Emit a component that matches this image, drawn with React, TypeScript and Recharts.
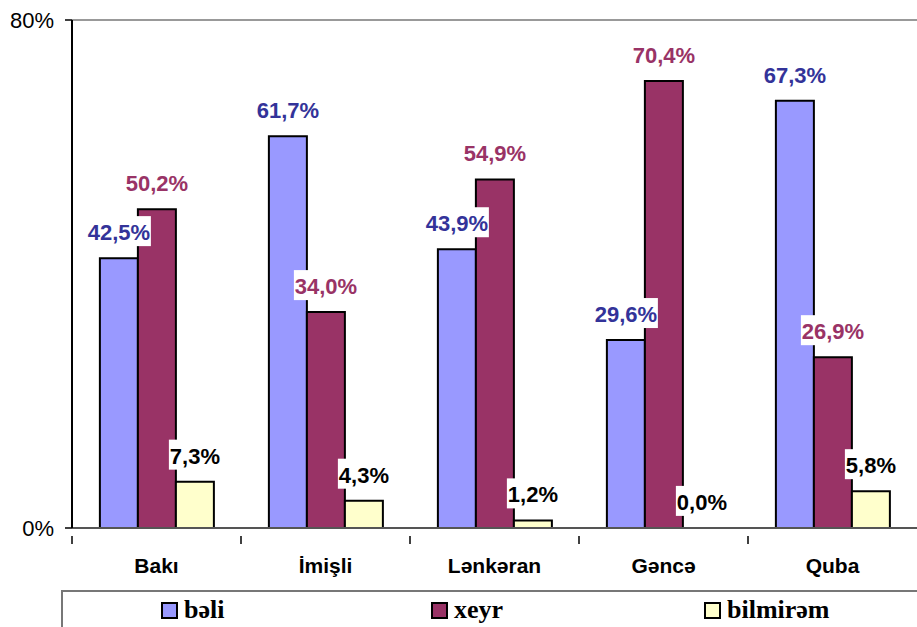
import { BarChart, Bar, XAxis, YAxis, LabelList, ReferenceLine, Legend } from 'recharts';

const cities = ['Bakı', 'İmişli', 'Lənkəran', 'Gəncə', 'Quba'];
const beli = [42.5, 61.7, 43.9, 29.6, 67.3];
const xeyr = [50.2, 34.0, 54.9, 70.4, 26.9];
const bilmirem = [7.3, 4.3, 1.2, 0.0, 5.8];
const yTicks = [0, 80];

const series = [
  { key: 'beli', name: 'bəli', fill: '#9999FF', text: '#333399' },
  { key: 'xeyr', name: 'xeyr', fill: '#993366', text: '#993366' },
  { key: 'bilmirem', name: 'bilmirəm', fill: '#FFFFCC', text: '#000000' },
];

const data = cities.map((city, i) => ({
  city,
  beli: beli[i],
  xeyr: xeyr[i],
  bilmirem: bilmirem[i],
}));

const W = 917;
const H = 627;
const LEFT = 72;
const band = (W - LEFT) / cities.length;

const fmt = (v: number) => v.toFixed(1).replace('.', ',') + '%';

const makeLabel = (color: string) => (props: any) => {
  const { x, y, width, height, value } = props;
  const txt = fmt(Number(value));
  const cx = x + width / 2;
  const top = Math.min(y, y + (height || 0));
  const base = top - 18;
  const w = txt.length * 12 + 4;
  return (
    <g>
      <rect x={cx - w / 2} y={base - 24} width={w} height={30} fill="#fff" />
      <text x={cx} y={base} textAnchor="middle" fill={color}
        style={{ font: 'bold 22px Arial, "Liberation Sans", sans-serif' }}>
        {txt}
      </text>
    </g>
  );
};

const CityTick = (props: any) => {
  const { x, y, payload } = props;
  return (
    <g>
      <line x1={x - band / 2} y1={y} x2={x - band / 2} y2={y + 8} stroke="#000" strokeWidth={1.5} />
      <text x={x} y={y + 37} textAnchor="middle" fill="#000"
        style={{ font: 'bold 21px Arial, "Liberation Sans", sans-serif' }}>
        {payload.value}
      </text>
    </g>
  );
};

const LegendBox = () => (
  <div style={{
    borderTop: '2px solid #777', borderLeft: '2px solid #777', height: 37,
    boxSizing: 'border-box', position: 'relative',
    font: 'bold 26px "Liberation Serif", "Times New Roman", serif',
  }}>
    {series.map((s, i) => (
      <div key={s.key} style={{
        position: 'absolute', left: [98, 368, 641][i], top: 3,
        display: 'flex', alignItems: 'center', lineHeight: '30px',
      }}>
        <span style={{
          display: 'inline-block', width: 13, height: 13, background: s.fill,
          border: '2px solid #000', marginRight: 6,
        }} />
        {s.name}
      </div>
    ))}
  </div>
);

export default function App() {
  return (
    <div style={{ position: 'absolute', left: 0, top: 0, width: W, height: H, background: '#fff', overflow: 'hidden' }}>
      <BarChart width={W} height={H} data={data}
        margin={{ top: 20, right: 0, bottom: 0, left: 0 }}
        barCategoryGap="16.5%" barGap={0}>
        <ReferenceLine y={80} stroke="#999" strokeWidth={2} />
        <XAxis dataKey="city" height={62} tickLine={false} interval={0}
          axisLine={{ stroke: '#555', strokeWidth: 2 }} tick={<CityTick />} />
        <YAxis width={LEFT} domain={[0, 80]} ticks={yTicks} tickFormatter={(v) => `${v}%`}
          axisLine={{ stroke: '#000', strokeWidth: 2 }} tickLine={{ stroke: '#000', strokeWidth: 1.5 }}
          tickSize={7} tickMargin={11}
          tick={{ fill: '#000', fontSize: 22, fontFamily: 'Arial, "Liberation Sans", sans-serif' }} />
        <Legend verticalAlign="bottom" content={<LegendBox />}
          wrapperStyle={{ left: 61, width: 900, height: 37 }} />
        {series.map((s) => (
          <Bar key={s.key} dataKey={s.key} name={s.name} fill={s.fill}
            stroke="#000" strokeWidth={2} minPointSize={0.1} isAnimationActive={false}>
            <LabelList dataKey={s.key} content={makeLabel(s.text)} />
          </Bar>
        ))}
      </BarChart>
    </div>
  );
}
